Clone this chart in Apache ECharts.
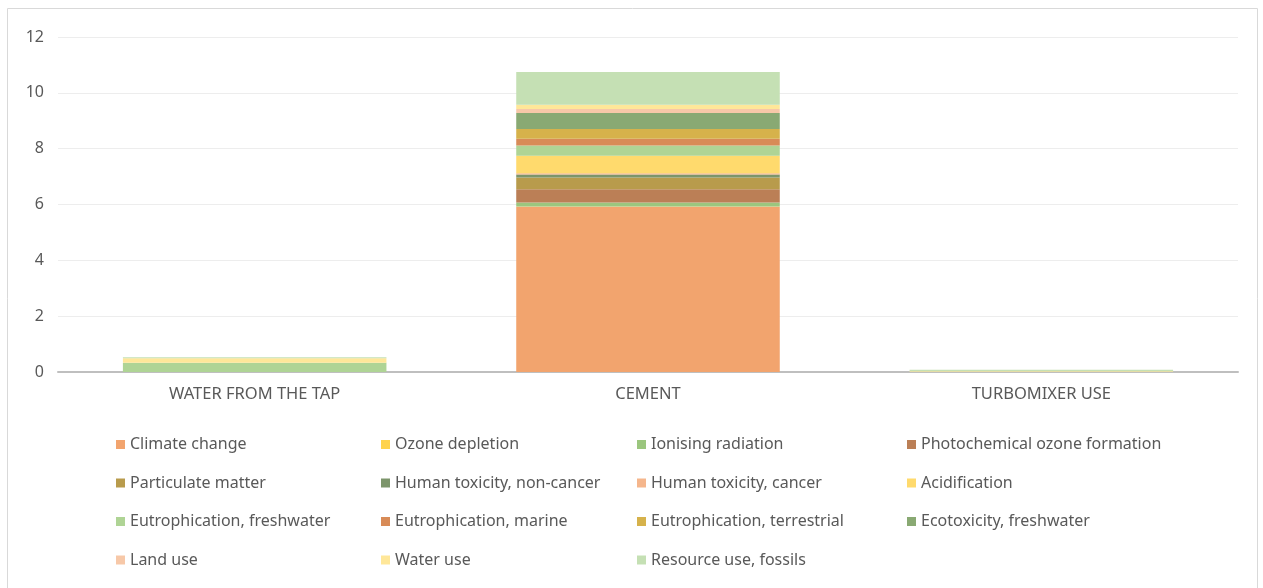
<!DOCTYPE html>
<html>
<head>
<meta charset="utf-8">
<script src="https://cdn.jsdelivr.net/npm/echarts@6/dist/echarts.min.js"></script>
<style>html,body{margin:0;padding:0;background:#fff}#c{width:1263px;height:588px}</style>
</head>
<body>
<div id="c"></div>
<script>
const categories = ['WATER FROM THE TAP', 'CEMENT', 'TURBOMIXER USE'];
const seriesNames = ['Climate change','Ozone depletion','Ionising radiation','Photochemical ozone formation','Particulate matter','Human toxicity, non-cancer','Human toxicity, cancer','Acidification','Eutrophication, freshwater','Eutrophication, marine','Eutrophication, terrestrial','Ecotoxicity, freshwater','Land use','Water use','Resource use, fossils'];
const climateChange = [0.00, 5.92, 0.00];
const ozoneDepletion = [0.00, 0.01, 0.00];
const ionisingRadiation = [0.00, 0.14, 0.00];
const photochemical = [0.00, 0.48, 0.00];
const particulateMatter = [0.00, 0.415, 0.00];
const humanToxNonCancer = [0.00, 0.107, 0.00];
const humanToxCancer = [0.00, 0.05, 0.00];
const acidification = [0.00, 0.62, 0.00];
const eutroFreshwater = [0.33, 0.37, 0.00];
const eutroMarine = [0.00, 0.24, 0.00];
const eutroTerrestrial = [0.00, 0.35, 0.00];
const ecotoxFreshwater = [0.00, 0.573, 0.00];
const landUse = [0.00, 0.143, 0.00];
const waterUse = [0.16, 0.154, 0.03];
const resourceFossils = [0.04, 1.17, 0.05];
const yTicks = [0, 2, 4, 6, 8, 10, 12];

const values = [climateChange, ozoneDepletion, ionisingRadiation, photochemical, particulateMatter, humanToxNonCancer, humanToxCancer, acidification, eutroFreshwater, eutroMarine, eutroTerrestrial, ecotoxFreshwater, landUse, waterUse, resourceFossils];
const colors = ['#F2A46E','#FFD34D','#9BC67E','#BB7F56','#B89B4C','#7C956B','#F5B68C','#FFDA6D','#AFD495','#D88B57','#D6B24B','#89A973','#F7C8A8','#FFE799','#C5E0B4'];

const series = seriesNames.map((n, i) => ({
  name: n, type: 'bar', stack: 'total', barCategoryGap: '33%',
  itemStyle: { color: colors[i] },
  data: values[i]
}));

const cols = [
  ['Climate change','Particulate matter','Eutrophication, freshwater','Land use'],
  ['Ozone depletion','Human toxicity, non-cancer','Eutrophication, marine','Water use'],
  ['Ionising radiation','Human toxicity, cancer','Eutrophication, terrestrial','Resource use, fossils'],
  ['Photochemical ozone formation','Acidification','Ecotoxicity, freshwater']
];
const colLeft = [111, 376, 632, 902];
const legends = cols.map((c, i) => ({
  orient: 'vertical', left: colLeft[i], top: 431,
  data: c, icon: 'rect', itemWidth: 9, itemHeight: 9, itemGap: 21.5,
  selectedMode: false,
  textStyle: { fontFamily: 'Noto Sans', fontSize: 16, color: '#595959', lineHeight: 17 }
}));

const chart = echarts.init(document.getElementById('c'), null, { renderer: 'canvas' });
chart.setOption({
  animation: false,
  textStyle: { fontFamily: 'Noto Sans' },
  graphic: [{ type: 'rect', shape: { x: 7.5, y: 8.5, width: 1250, height: 600 }, style: { fill: 'none', stroke: '#D9D9D9', lineWidth: 1 }, silent: true }],
  grid: { left: 58, right: 25, top: 37, bottom: 216, containLabel: false },
  legend: legends,
  xAxis: {
    type: 'category', data: categories,
    axisLine: { lineStyle: { color: '#BFBFBF', width: 2 } },
    axisTick: { show: false },
    axisLabel: { fontFamily: 'Noto Sans', fontSize: 16.5, color: '#595959', margin: 14 }
  },
  yAxis: {
    type: 'value', min: yTicks[0], max: yTicks[yTicks.length - 1], interval: 2,
    axisLine: { show: false }, axisTick: { show: false },
    splitLine: { lineStyle: { color: '#EDEDED', width: 1 } },
    axisLabel: { fontFamily: 'Noto Sans', fontSize: 16, color: '#595959', margin: 14 }
  },
  series: series
});
</script>
</body>
</html>
